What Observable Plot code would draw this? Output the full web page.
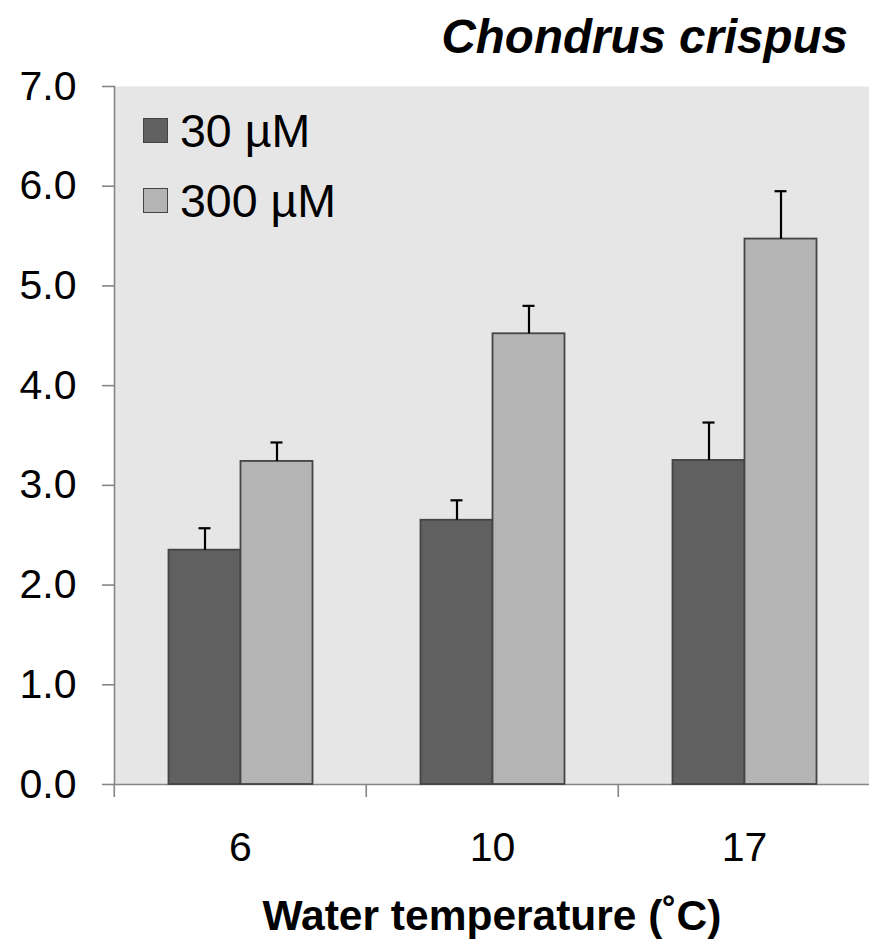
<!DOCTYPE html>
<html><head><meta charset="utf-8">
<script src="https://cdn.jsdelivr.net/npm/d3@7"></script>
<script src="https://cdn.jsdelivr.net/npm/@observablehq/plot@0.6"></script>
<style>
body{margin:0;background:#fff;font-family:"Liberation Sans",Arial,sans-serif;}
#wrap{position:relative;width:869px;height:940px;overflow:hidden;background:#fff}
#title{height:70px;line-height:70px;text-align:right;padding-right:21px;padding-top:2px;box-sizing:border-box;font-weight:bold;font-style:italic;font-size:47.5px;color:#000}
#chart svg{display:block}
#xlabel{position:absolute;left:-100px;width:1184px;top:883px;height:57px;line-height:66px;text-align:center;font-weight:bold;font-size:42.5px;color:#000;overflow:visible}
.sw{position:absolute;width:25px;height:25px;box-sizing:border-box;border:1.6px solid #444}
.lt{position:absolute;font-size:46.5px;line-height:46.5px;color:#000;white-space:nowrap}
</style>
</head><body>
<div id="wrap">
  <div id="title">Chondrus crispus</div>
  <div id="chart"></div>
  <div id="xlabel">Water temperature (˚C)</div>
  <div id="legend"></div>
</div>
<script>
const temps = ["6", "10", "17"];
const series = ["30 µM", "300 µM"];
const mean30 = [2.35, 2.65, 3.25];
const mean300 = [3.24, 4.52, 5.47];
const err30 = [0.22, 0.20, 0.38];
const err300 = [0.19, 0.28, 0.48];
const yTicks = [0, 1, 2, 3, 4, 5, 6, 7];
const colors = ["#606060", "#b4b4b4"];

const rows = [];
temps.forEach((t, i) => {
  rows.push({temp: t, series: series[0], mean: mean30[i], top: mean30[i] + err30[i]});
  rows.push({temp: t, series: series[1], mean: mean300[i], top: mean300[i] + err300[i]});
});

const W = 869, ML = 113.5, MR = -2;
const bw = (W - ML - MR) / temps.length;
const font = '"Liberation Sans", Arial, sans-serif';

const plot = Plot.plot({
  width: W, height: 804,
  marginTop: 16, marginBottom: 90, marginLeft: ML, marginRight: MR,
  style: {fontFamily: font, color: "#000", background: "transparent", overflow: "visible"},
  fx: {domain: temps, paddingInner: 0, paddingOuter: 0, label: null},
  x: {domain: series, paddingInner: 0, paddingOuter: 0.746, axis: null},
  y: {domain: [0, 7], label: null},
  color: {domain: series, range: colors},
  marks: [
    Plot.frame({fill: "#e6e6e6", stroke: null, insetRight: -1.5}),
    Plot.ruleY([0], {stroke: "#868686", strokeWidth: 1.6, insetRight: -1}),
    Plot.axisY({ticks: yTicks, tickFormat: d3.format(".1f"), tickSize: 12, tickPadding: 26, fontSize: 41, stroke: "#868686", strokeWidth: 1.6, label: null}),
    Plot.frame({anchor: "left", facetAnchor: "left", stroke: "#868686", strokeWidth: 1.6}),
    Plot.axisFx({anchor: "bottom", tickSize: 0, tickPadding: 47, fontSize: 41, label: null}),
    Plot.axisFx({anchor: "bottom", tickSize: 13, tickFormat: () => "", dx: -bw / 2, stroke: "#868686", strokeWidth: 1.6, label: null}),
    Plot.barY(rows, {fx: "temp", x: "series", y: "mean", fill: "series", stroke: "#444", strokeWidth: 1.8}),
    Plot.ruleX(rows, {fx: "temp", x: "series", y1: "mean", y2: "top", stroke: "#000", strokeWidth: 2.2}),
    Plot.tickY(rows, {fx: "temp", x: "series", y: "top", stroke: "#000", strokeWidth: 2.2, insetLeft: 30, insetRight: 30})
  ]
});
document.getElementById("chart").appendChild(plot);

// legend (HTML overlay)
const leg = document.getElementById("legend");
series.forEach((s, i) => {
  const sw = document.createElement("div");
  sw.className = "sw";
  sw.style.left = "143px";
  sw.style.top = (118 + 70 * i) + "px";
  sw.style.background = colors[i];
  leg.appendChild(sw);
  const lt = document.createElement("div");
  lt.className = "lt";
  lt.style.left = "180px";
  lt.style.top = (107.5 + 70 * i) + "px";
  lt.textContent = s;
  leg.appendChild(lt);
});
</script>
</body></html>
